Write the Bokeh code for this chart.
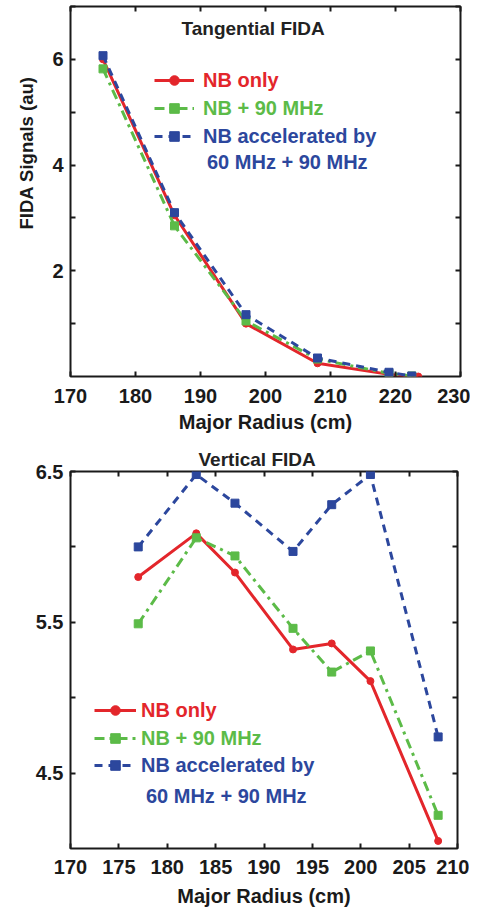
from bokeh.plotting import figure
from bokeh.models import (Range1d, FixedTicker, LinearAxis, Legend, LegendItem, Label, Title)
from bokeh.layouts import column
from bokeh.embed import file_html
from bokeh.resources import INLINE

# ---------------- data ----------------
# Tangential FIDA (top)
tan_r_nb = [175, 186, 197, 208, 219, 223.5]
tan_nb = [6.0, 3.05, 1.0, 0.25, 0.04, 0.0]
tan_r_90 = [175, 186, 197, 208, 219, 222.5]
tan_90 = [5.82, 2.85, 1.05, 0.33, 0.06, 0.01]
tan_r_acc = [175, 186, 197, 208, 219, 222.5]
tan_acc = [6.07, 3.1, 1.17, 0.35, 0.08, 0.01]

# Vertical FIDA (bottom)
ver_r = [177, 183, 187, 193, 197, 201, 208]
ver_nb = [5.80, 6.09, 5.83, 5.32, 5.36, 5.11, 4.05]
ver_90 = [5.49, 6.06, 5.94, 5.46, 5.17, 5.31, 4.22]
ver_acc = [6.00, 6.48, 6.29, 5.97, 6.28, 6.48, 4.74]

labels = ["NB only", "NB + 90 MHz", "NB accelerated by", "60 MHz + 90 MHz"]

tan_xticks = [170, 180, 190, 200, 210, 220, 230]
tan_yticks = [2, 4, 6]
tan_yminor = [1, 3, 5, 7]
ver_xticks = [170, 175, 180, 185, 190, 195, 200, 205, 210]
ver_yticks = [4.5, 5.5, 6.5]
ver_yminor = [5.0, 6.0]

RED = "#e3262b"
GREEN = "#5cbb48"
BLUE = "#2c479d"
INK = "#1a1a1a"
FONT = "Liberation Sans"
FS = "20px"


def style(p, xticks, yticks, yminor):
    p.outline_line_color = INK
    p.outline_line_width = 2
    p.grid.visible = False
    xa = p.below[0]
    ya = p.left[0]
    xa.ticker = FixedTicker(ticks=xticks)
    ya.ticker = FixedTicker(ticks=yticks, minor_ticks=yminor)
    for ax in (xa, ya):
        ax.axis_line_color = None
        ax.major_tick_in = 5
        ax.major_tick_out = 0
        ax.minor_tick_in = 5
        ax.minor_tick_out = 0
        ax.major_tick_line_width = 2
        ax.minor_tick_line_width = 2
        ax.major_tick_line_color = INK
        ax.minor_tick_line_color = INK
        ax.major_label_text_font = FONT
        ax.major_label_text_font_style = "bold"
        ax.major_label_text_font_size = FS
        ax.major_label_text_color = INK
        ax.axis_label_text_font = FONT
        ax.axis_label_text_font_style = "bold"
        ax.axis_label_text_font_size = FS
        ax.axis_label_text_color = INK
    # mirror ticks on top and right (no labels)
    top = LinearAxis(ticker=FixedTicker(ticks=xticks), axis_line_color=None,
                     major_tick_in=5, major_tick_out=0, major_tick_line_width=2,
                     major_tick_line_color=INK,
                     major_label_overrides={t: "" for t in xticks}, major_label_standoff=0)
    right = LinearAxis(ticker=FixedTicker(ticks=yticks, minor_ticks=yminor), axis_line_color=None,
                       major_tick_in=5, major_tick_out=0, minor_tick_in=5, minor_tick_out=0,
                       major_tick_line_width=2, minor_tick_line_width=2,
                       major_tick_line_color=INK, minor_tick_line_color=INK,
                       major_label_overrides={t: "" for t in yticks}, major_label_standoff=0)
    p.add_layout(top, "above")
    p.add_layout(right, "right")
    return xa, ya


def add_series(p, xs, ys, color, dash, marker, size):
    ln = p.line(xs, ys, line_color=color, line_width=3, line_dash=dash)
    sc = p.scatter(xs, ys, marker=marker, size=size, fill_color=color, line_color=color)
    return [ln, sc]


def add_legends(p, items, x0, ys, glyph_w, standoff):
    for (lab, rends, col), y in zip(items, ys):
        lg = Legend(items=[LegendItem(label=lab, renderers=rends)], location=(x0, y),
                    padding=0, margin=0, spacing=0, border_line_color=None,
                    background_fill_alpha=0, glyph_width=glyph_w, glyph_height=24,
                    label_height=24, label_standoff=standoff,
                    label_text_font=FONT, label_text_font_style="bold",
                    label_text_font_size=FS, label_text_color=col)
        p.add_layout(lg, "center")


def text(p, x, y, s, color=INK, size=FS):
    p.add_layout(Label(x=x, y=y, text=s, text_align="center", text_baseline="middle",
                       text_font=FONT, text_font_style="bold", text_font_size=size,
                       text_color=color))


# ---------------- top figure ----------------
p1 = figure(frame_width=390, frame_height=370, min_border_left=69, min_border_right=10,
            min_border_top=6, min_border_bottom=66,
            x_range=Range1d(170, 230), y_range=Range1d(0, 7),
            output_backend="svg", toolbar_location=None)
xa1, ya1 = style(p1, tan_xticks, tan_yticks, tan_yminor)
xa1.axis_label = "Major Radius (cm)"
xa1.major_label_standoff = 12
xa1.axis_label_standoff = 5
ya1.major_label_standoff = 7
p1.add_layout(Title(text="FIDA Signals (au)", align="left", offset=147, standoff=26,
                    text_font=FONT, text_font_style="bold", text_font_size="18.5px",
                    text_color=INK), "left")

r_nb = add_series(p1, tan_r_nb, tan_nb, RED, "solid", "circle", 7)
r_90 = add_series(p1, tan_r_90, tan_90, GREEN, "10 5 3 5", "square", 8)
r_acc = add_series(p1, tan_r_acc, tan_acc, BLUE, "8 6", "square", 8)

add_legends(p1, [(labels[0], r_nb, RED), (labels[1], r_90, GREEN), (labels[2], r_acc, BLUE)],
            84, [284, 256, 228], 40, 9)
text(p1, 203.35, 4.05, labels[3], BLUE)
text(p1, 198.1, 6.59, "Tangential FIDA", "#222222", "19px")

# ---------------- bottom figure ----------------
p2 = figure(frame_width=387, frame_height=377, min_border_left=69, min_border_right=13,
            min_border_top=29, min_border_bottom=54,
            x_range=Range1d(170, 210), y_range=Range1d(4.0, 6.5),
            output_backend="svg", toolbar_location=None)
xa2, ya2 = style(p2, ver_xticks, ver_yticks, ver_yminor)
p2.title = Title(text="Vertical FIDA", align="left", offset=128, standoff=3,
                 text_font=FONT, text_font_style="bold", text_font_size="19px",
                 text_color="#222222")
xa2.axis_label = "Major Radius (cm)"
xa2.major_label_standoff = 11
xa2.axis_label_standoff = 8
ya2.major_label_standoff = 7

v_nb = add_series(p2, ver_r, ver_nb, RED, "solid", "circle", 7)
v_90 = add_series(p2, ver_r, ver_90, GREEN, "10 5 3 5", "square", 8)
v_acc = add_series(p2, ver_r, ver_acc, BLUE, "8 6", "square", 8)

add_legends(p2, [(labels[0], v_nb, RED), (labels[1], v_90, GREEN), (labels[2], v_acc, BLUE)],
            24, [126, 98, 71], 42, 5)
text(p2, 186.1, 4.35, labels[3], BLUE)

layout = column(p1, p2, spacing=0)
open("out.html", "w").write(file_html(layout, INLINE))
